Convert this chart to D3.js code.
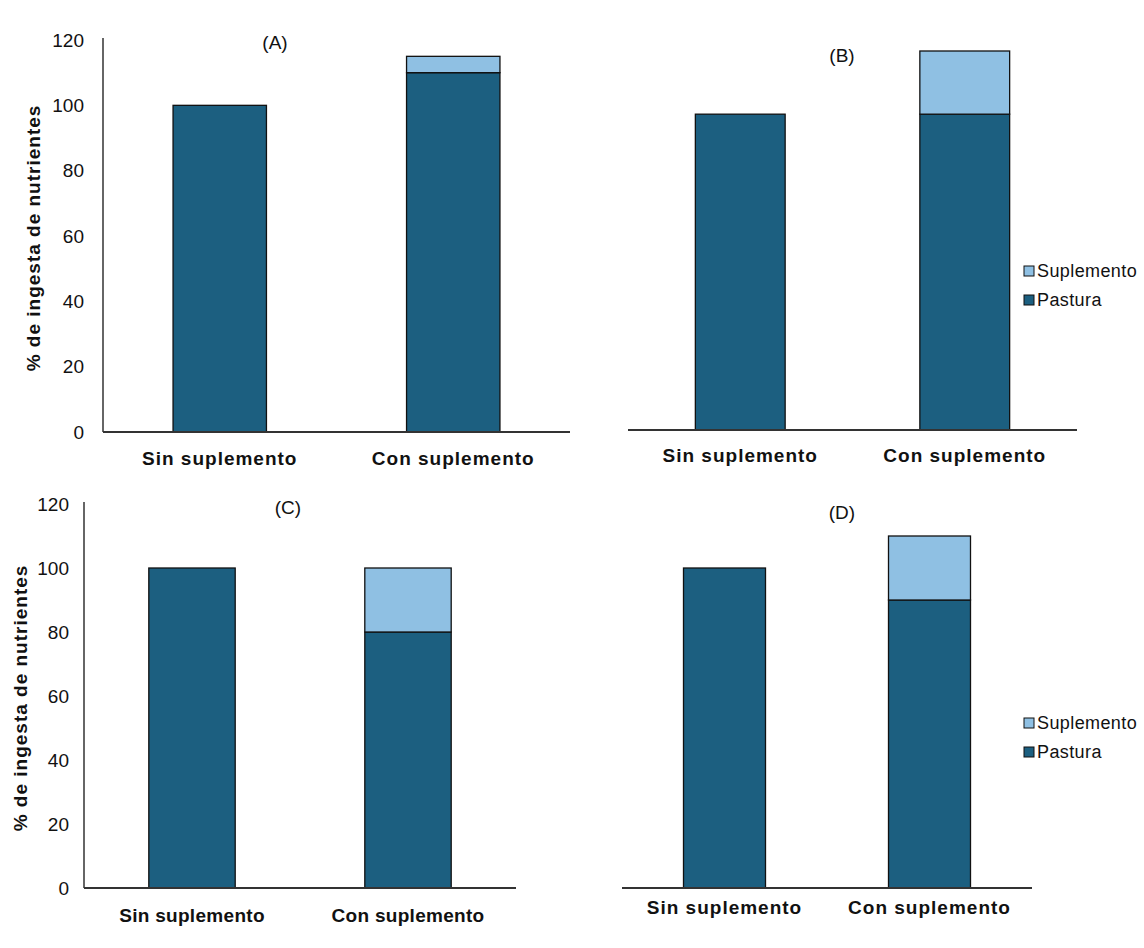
<!DOCTYPE html>
<meta charset="utf-8">
<script src="https://d3js.org/d3.v7.min.js"></script>
<style>
	body{
		margin:0;
		background:#fff;
		font-family: "Liberation Sans", Arial, sans-serif;
	}
</style>
<div id="chart"></div>
<script>

// data (% de ingesta de nutrientes)
var categories = ["Sin suplemento","Con suplemento"]
var seriesNames = ["Suplemento","Pastura"]
var panelLabels = ["(A)","(B)","(C)","(D)"]
var yTicks = [0,20,40,60,80,100,120]

var pasturaA = [100,110]
var suplementoA = [0,5]
var pasturaB = [100,100]
var suplementoB = [0,20]
var pasturaC = [100,80]
var suplementoC = [0,20]
var pasturaD = [100,90]
var suplementoD = [0,20]

var colors = {"Pastura":"#1c5f80","Suplemento":"#8fc0e3"}

var w = 1144
var h = 948

var svg = d3.select("#chart").append("svg")
	.attr("width",w)
	.attr("height",h)

// layout of each of the four small charts
var panels = [
	{label:panelLabels[0], pastura:pasturaA, supl:suplementoA, x0:103, x1:570, yBase:432, yTop:40, showAxis:true,
	 titleX:275, titleY:42, labelY:458, ls:1, axisTitleX:33, tickRight:84},
	{label:panelLabels[1], pastura:pasturaB, supl:suplementoB, x0:628, x1:1077, yBase:430, yTop:51, showAxis:false,
	 titleX:842, titleY:55, labelY:455, ls:1, legendY:271},
	{label:panelLabels[2], pastura:pasturaC, supl:suplementoC, x0:84, x1:516, yBase:888, yTop:504, showAxis:true,
	 titleX:288, titleY:507, labelY:915, ls:0.3, axisTitleX:20, tickRight:69},
	{label:panelLabels[3], pastura:pasturaD, supl:suplementoD, x0:622, x1:1032, yBase:888, yTop:504, showAxis:false,
	 titleX:842, titleY:512, labelY:907, ls:1, legendY:723}
]

panels.forEach(function(p){
	drawPanel(p)
})

function drawPanel(p){
	var g = svg.append("g")

	var rows = categories.map(function(c,i){
		return {cat:c, Pastura:p.pastura[i], Suplemento:p.supl[i]}
	})
	var stacked = d3.stack().keys(["Pastura","Suplemento"])(rows)

	var xScale = d3.scaleBand().domain(categories).range([p.x0,p.x1])
		.paddingInner(0.6).paddingOuter(0.3)
	var yScale = d3.scaleLinear().domain([0,120]).range([p.yBase,p.yTop])

	// bars
	g.selectAll(".layer")
	.data(stacked)
	.join("g")
	.attr("fill",function(d){ return colors[d.key] })
	.selectAll("rect")
	.data(function(d){ return d.filter(function(s){ return s[1]-s[0]>0 }) })
	.join("rect")
	.attr("x",function(d){ return xScale(d.data.cat) })
	.attr("width",xScale.bandwidth())
	.attr("y",function(d){ return yScale(d[1]) })
	.attr("height",function(d){ return yScale(d[0])-yScale(d[1]) })
	.attr("stroke","#111")
	.attr("stroke-width",1.3)

	// x axis line
	g.append("line")
	.attr("x1",p.x0).attr("x2",p.x1)
	.attr("y1",p.yBase).attr("y2",p.yBase)
	.attr("stroke","#333").attr("stroke-width",1.8)

	// category labels
	g.selectAll(".catLabel")
	.data(categories)
	.join("text")
	.attr("x",function(d){ return xScale(d)+xScale.bandwidth()/2 })
	.attr("y",p.labelY)
	.attr("dy","0.35em")
	.attr("text-anchor","middle")
	.style("font-size","19px")
	.style("font-weight","bold")
	.style("letter-spacing",p.ls+"px")
	.attr("fill","#111")
	.text(function(d){ return d })

	// panel letter
	g.append("text")
	.attr("x",p.titleX).attr("y",p.titleY)
	.attr("dy","0.35em")
	.attr("text-anchor","middle")
	.style("font-size","19px")
	.attr("fill","#111")
	.text(p.label)

	if(p.showAxis){
		g.append("line")
		.attr("x1",p.x0).attr("x2",p.x0)
		.attr("y1",p.yBase).attr("y2",yScale(120)-2)
		.attr("stroke","#333").attr("stroke-width",1.5)

		g.selectAll(".tick")
		.data(yTicks)
		.join("text")
		.attr("x",p.tickRight)
		.attr("y",function(d){ return yScale(d) })
		.attr("dy","0.35em")
		.attr("text-anchor","end")
		.style("font-size","19px")
		.attr("fill","#111")
		.text(function(d){ return d })

		g.append("text")
		.attr("transform","translate("+p.axisTitleX+","+((p.yBase+yScale(120))/2+2)+") rotate(-90)")
		.attr("dy","0.35em")
		.attr("text-anchor","middle")
		.style("font-size","19px")
		.style("font-weight","bold")
		.style("letter-spacing","1px")
		.attr("fill","#111")
		.text("% de ingesta de nutrientes")
	}

	if(p.legendY!=undefined){
		var legend = g.selectAll(".legend")
		.data(seriesNames)
		.join("g")
		.attr("transform",function(d,i){ return "translate(1024,"+(p.legendY+i*29)+")" })

		legend.append("rect")
		.attr("x",0).attr("y",-5)
		.attr("width",10).attr("height",10)
		.attr("fill",function(d){ return colors[d] })
		.attr("stroke","#111").attr("stroke-width",1)

		legend.append("text")
		.attr("x",13).attr("y",0)
		.attr("dy","0.35em")
		.style("font-size","18px")
		.style("letter-spacing","0.4px")
		.attr("fill","#111")
		.text(function(d){ return d })
	}
}

</script>
